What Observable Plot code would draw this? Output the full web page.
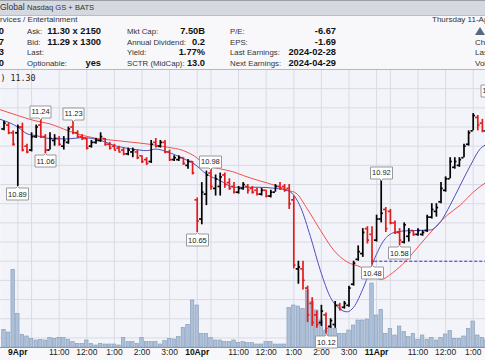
<!DOCTYPE html>
<html><head><meta charset="utf-8">
<script src="https://cdn.jsdelivr.net/npm/d3@7"></script>
<script src="https://cdn.jsdelivr.net/npm/@observablehq/plot@0.6"></script>
<style>
body{margin:0;background:#fff;}
#wrap{position:relative;width:485px;height:360px;overflow:hidden;font-family:"Liberation Sans",Arial,sans-serif;color:#222;background:#f8f8fb;}
.t{position:absolute;white-space:nowrap;line-height:1;color:#333;}
.b{font-weight:bold;color:#111;}
.r{transform:translateX(-100%);}
#tb{position:absolute;left:0;top:0;width:485px;height:14px;background:#d5d8df;border-top:1px solid #9aa0aa;border-bottom:1px solid #b9bdc6;}
.layer{position:absolute;left:0;top:69px;}
#tri{position:absolute;left:475px;top:27px;width:0;height:0;border-left:5px solid transparent;border-right:5px solid transparent;border-bottom:8px solid #5b6680;}
</style></head><body>
<div id="wrap">
  <div id="tb"></div>
  <div id="tri"></div>
  <div id="l1" class="layer"></div>
  <div id="l2" class="layer"></div>
  <div id="l3" class="layer"></div>
</div>
<script>
// ---------- header text ----------
const titleMain = "Global";
const titleSub = "Nasdaq GS + BATS";
const sectorText = "rvices / Entertainment";
const dateText = "Thursday 11-Apr-2024";
const col0Values = ["0", "7", "3", "0"];
const col1Labels = ["Ask:", "Bid:", "Last:", "Optionable:"];
const col1Values = ["11.30 x 2150", "11.29 x 1300", "", "yes"];
const col2Labels = ["Mkt Cap:", "Annual Dividend:", "Yield:", "SCTR (MidCap):"];
const col2Values = ["7.50B", "0.2", "1.77%", "13.0"];
const col3Labels = ["P/E:", "EPS:", "Last Earnings:", "Next Earnings:"];
const col3Values = ["-6.67", "-1.69", "2024-02-28", "2024-04-29"];
const col4Labels = ["", "Chg:", "Last:", "Vol:"];

// ---------- price data (10-minute bars, index k; k = 0 is 9 Apr 9:30) ----------
const firstK = -3;
const open = [
 11.19,11.21,11.17,11.17,11.20,11.10,11.08,11.15,11.21,11.15,
 11.08,11.13,11.14,11.10,11.12,11.20,11.17,11.15,11.14,11.10,
 11.12,11.13,11.14,11.11,11.10,11.09,11.08,11.06,11.07,11.07,
 11.05,11.03,11.02,11.12,11.10,11.12,11.07,11.03,11.03,11.04,
 11.00,11.02,10.82,10.72,10.85,10.96,10.88,10.89,10.95,10.91,
 10.89,10.86,10.88,10.89,10.88,10.87,10.85,10.87,10.84,10.86,
 10.89,10.89,10.88,10.82,10.46,10.46,10.36,10.28,10.22,10.18,
 10.22,10.16,10.17,10.27,10.26,10.27,10.38,10.51,10.54,10.67,
 10.64,10.61,10.72,10.77,10.76,10.70,10.65,10.60,10.63,10.66,
 10.64,10.64,10.66,10.73,10.76,10.81,10.87,10.93,10.99,11.00,
 11.04,11.11,11.18,11.25,11.22,11.18,11.27];
const high = [
 11.23,11.22,11.18,11.21,11.22,11.11,11.17,11.21,11.24,11.16,
 11.17,11.16,11.15,11.15,11.20,11.23,11.18,11.16,11.14,11.13,
 11.14,11.17,11.14,11.12,11.11,11.10,11.09,11.09,11.09,11.08,
 11.05,11.04,11.13,11.14,11.13,11.13,11.08,11.05,11.05,11.04,
 11.03,11.02,10.83,10.91,10.97,10.98,10.95,10.96,10.96,10.93,
 10.91,10.89,10.91,10.90,10.89,10.88,10.88,10.87,10.87,10.90,
 10.91,10.90,10.90,10.84,10.50,10.50,10.37,10.31,10.24,10.27,
 10.23,10.20,10.29,10.28,10.29,10.37,10.50,10.58,10.67,10.68,
 10.68,10.74,10.92,10.78,10.77,10.71,10.67,10.70,10.67,10.66,
 10.67,10.66,10.74,10.80,10.80,10.91,10.94,11.04,11.04,11.04,
 11.11,11.18,11.27,11.26,11.24,11.28,11.35];
const low = [
 11.18,11.16,11.10,10.89,11.07,11.06,11.07,11.14,11.14,11.06,
 11.08,11.10,11.10,11.08,11.11,11.16,11.14,11.13,11.08,11.09,
 11.11,11.12,11.10,11.08,11.08,11.07,11.05,11.05,11.04,11.03,
 11.01,11.00,11.01,11.09,11.09,11.06,11.02,11.02,11.02,11.00,
 10.98,10.95,10.65,10.69,10.79,10.87,10.84,10.84,10.88,10.87,
 10.85,10.85,10.87,10.85,10.85,10.84,10.84,10.83,10.83,10.86,
 10.87,10.86,10.77,10.46,10.38,10.35,10.18,10.16,10.15,10.16,
 10.12,10.15,10.15,10.24,10.25,10.26,10.37,10.50,10.52,10.59,
 10.48,10.60,10.70,10.65,10.69,10.64,10.58,10.59,10.60,10.63,
 10.63,10.63,10.65,10.72,10.73,10.80,10.86,10.93,10.98,10.99,
 11.04,11.10,11.18,11.18,11.17,11.17,11.25];
const close = [
 11.22,11.17,11.11,11.20,11.08,11.07,11.15,11.20,11.15,11.08,
 11.14,11.14,11.11,11.13,11.19,11.17,11.15,11.14,11.09,11.12,
 11.13,11.15,11.11,11.09,11.08,11.07,11.06,11.08,11.08,11.04,
 11.02,11.01,11.11,11.10,11.12,11.07,11.03,11.04,11.04,11.01,
 11.02,10.96,10.71,10.86,10.95,10.89,10.93,10.94,10.90,10.88,
 10.86,10.88,10.90,10.87,10.86,10.85,10.87,10.84,10.86,10.89,
 10.88,10.87,10.80,10.48,10.47,10.40,10.22,10.18,10.17,10.24,
 10.15,10.19,10.27,10.25,10.28,10.36,10.49,10.55,10.65,10.61,
 10.50,10.72,10.75,10.67,10.70,10.65,10.61,10.69,10.65,10.64,
 10.66,10.65,10.73,10.77,10.78,10.88,10.93,11.02,11.02,11.03,
 11.10,11.17,11.26,11.21,11.18,11.27,11.30];
const volume = [ // thousands of shares
 106,90,466,202,76,66,52,42,46,42,
 58,52,58,56,46,32,22,22,42,22,
 12,22,18,18,18,12,58,32,32,22,
 58,32,32,32,18,38,52,48,62,118,
 136,282,252,82,82,56,42,42,32,32,
 42,28,32,26,26,18,18,32,32,18,
 18,18,238,252,246,232,342,272,222,162,
 102,122,112,82,82,102,132,162,162,168,
 384,192,226,82,112,72,126,92,62,82,
 46,72,46,58,42,58,78,98,52,52,
 66,112,156,72,58,46,60];

// moving averages (bar position k, value)
const maFastK = [-3.8,0,2,4,7,11,14,18,21.5,25,28,30,32.5,36,38.3,41,44,47,52,56,59,61.5,63.6,65.8,68,69.8,71.6,73,75.2,77.4,79.6,81.8,84,86,89.7,91.9,94,96.2,98.4,100.6,102];
const maFastV = [11.24,11.20,11.165,11.155,11.14,11.138,11.145,11.13,11.10,11.085,11.077,11.085,11.07,11.035,11.008,10.955,10.92,10.886,10.886,10.88,10.865,10.78,10.63,10.45,10.31,10.255,10.236,10.26,10.366,10.505,10.609,10.65,10.658,10.66,10.663,10.706,10.793,10.897,11.0,11.088,11.11];
const maSlowK = [-3.8,0,3.5,7,11,14.3,18,21.6,25,29,32.5,36,38.3,41,44,47,49,52.5,56,59,60.5,62.9,65.8,68.7,71.6,74.5,76.7,78.9,81.5,84.3,87.2,90.5,93.4,96.2,99.1,102];
const maSlowV = [11.29,11.26,11.234,11.216,11.18,11.155,11.138,11.129,11.12,11.109,11.095,11.077,11.05,11.0,10.982,10.965,10.947,10.92,10.895,10.868,10.855,10.774,10.661,10.557,10.496,10.47,10.435,10.405,10.44,10.50,10.58,10.671,10.741,10.793,10.862,10.915];

// price labels (extremes)
const labelK = [0,5,6,12,39,42,67,77,79,83,103];
const labelPrice = [10.89,11.24,11.06,11.23,10.65,10.98,10.12,10.48,10.92,10.58,11.35];
const labelSide = ["low","high","low","high","low","high","low","low","high","low","high"];

const prevClose = 10.50;
const lastPrice = 11.30;

// axis ticks
const dayTickK = [0, 39, 78];
const dayTickLabels = ["9Apr", "10Apr", "11Apr"];
const timeTickK = [9,15,21,27,33, 48,54,60,66,72, 87,93,99];
const timeTickLabels = ["11:00","12:00","1:00","2:00","3:00","11:00","12:00","1:00","2:00","3:00","11:00","12:00","1:00"];
const gridK = [-6,0,3,9,15,21,27,33,39,42,48,54,60,66,72,78,81,87,93,99];
const gridPrices = [10.1,10.2,10.3,10.4,10.5,10.6,10.7,10.8,10.9,11.0,11.1,11.2,11.3,11.4,11.5];

// ---------- build header ----------
const wrap = document.getElementById("wrap");
function put(text, left, cy, cls, size) {
  const s = document.createElement("span");
  s.className = "t " + (cls || "");
  s.textContent = text;
  const fs = size || (cls && cls.includes("b") ? 9.3 : 7.8);
  s.style.fontSize = fs + "px";
  s.style.left = left + "px";
  s.style.top = (cy - fs * 0.55) + "px";
  wrap.appendChild(s);
}
put(titleMain, 0, 8, "", 8.5);
put(titleSub, 27, 8.3, "", 7.6);
put(sectorText, 0, 20, "", 8);
put(dateText, 432, 20, "", 8);
const rowsY = [32, 43, 53.5, 64.5];
rowsY.forEach((cy, i) => {
  put(col0Values[i], 4, cy, "b r");
  put(col1Labels[i], 27, cy, "");
  if (col1Values[i]) put(col1Values[i], 101, cy, "b r");
  put(col2Labels[i], 127, cy, "");
  put(col2Values[i], 205, cy, "b r");
  put(col3Labels[i], 230, cy, "");
  put(col3Values[i], 336, cy, "b r");
  if (col4Labels[i]) put(col4Labels[i], 475, cy, "", 8);
});

// ---------- chart ----------
const bars = open.map((o, i) => ({
  k: i + firstK, open: o, high: high[i], low: low[i], close: close[i], vol: volume[i],
  up: close[i] >= o
}));
const upBars = bars.filter(d => d.up), downBars = bars.filter(d => !d.up);
const maFast = maFastK.map((k, i) => ({k, v: maFastV[i]}));
const maSlow = maSlowK.map((k, i) => ({k, v: maSlowV[i]}));
const labels = labelK.map((k, i) => ({k, p: labelPrice[i], side: labelSide[i], t: labelPrice[i].toFixed(2)}));

const spacing = 4.6, x0 = 17.3, W = 485;
const xDomain = [-x0 / spacing, (W - x0) / spacing];
const yDomain = [10.05, 11.50];
const common = {
  width: W, height: 291, marginTop: 0, marginBottom: 13, marginLeft: 0, marginRight: 0,
  x: {domain: xDomain, axis: null},
  style: {background: "transparent", overflow: "visible", fontFamily: "Liberation Sans, Arial, sans-serif"}
};
const gridColor = "#d9dbe4";

const layer1 = Plot.plot({
  ...common,
  y: {domain: yDomain, axis: null},
  marks: [
    Plot.frame({fill: "#f3f4f9", stroke: null}),
    Plot.ruleY(gridPrices, {stroke: gridColor}),
    Plot.ruleX(gridK, {stroke: gridColor}),
    Plot.ruleY([yDomain[1]], {stroke: "#b5b9c4"}),
    Plot.ruleY([yDomain[0]], {stroke: "#8e95a3"}),
    Plot.text(dayTickK, {x: d => d, text: (d, i) => dayTickLabels[i], frameAnchor: "bottom", dy: 7, fontSize: 8.5, fontWeight: "bold", fill: "#111"}),
    Plot.text(timeTickK, {x: d => d, text: (d, i) => timeTickLabels[i], frameAnchor: "bottom", dy: 7, fontSize: 8.5, fill: "#222"})
  ]
});
document.getElementById("l1").appendChild(layer1);

const layer2 = Plot.plot({
  ...common,
  y: {domain: [0, 1668], axis: null},
  marks: [
    Plot.rect(bars, {x1: d => d.k - 0.38, x2: d => d.k + 0.38, y1: d => 0, y2: "vol", fill: "#adc0d8", stroke: "#8299b8", strokeWidth: 0.6})
  ]
});
document.getElementById("l2").appendChild(layer2);

const tick = 0.48;
const ohlc = (data, color) => [
  Plot.ruleX(data, {x: "k", y1: "low", y2: "high", stroke: color, strokeWidth: 1.7}),
  Plot.ruleY(data, {y: "open", x1: d => d.k - tick, x2: "k", stroke: color, strokeWidth: 1.7}),
  Plot.ruleY(data, {y: "close", x1: "k", x2: d => d.k + tick, stroke: color, strokeWidth: 1.7})
];
const tipStyle = {x: "k", y: "p", title: "t", fontSize: 7.5, textPadding: 1.5, pointerSize: 3, fill: "#fff", stroke: "#9a9a9a", pathFilter: "none", fontFamily: "Liberation Sans, Arial, sans-serif"};

const layer3 = Plot.plot({
  ...common,
  y: {domain: yDomain, axis: null},
  marks: [
    Plot.ruleY([prevClose], {x1: dayTickK[2] - 0.4, x2: xDomain[1] + 2, stroke: "#2b2bf0", strokeDasharray: "3,2", strokeWidth: 1}),
    Plot.line(maSlow, {x: "k", y: "v", stroke: "#f05050", strokeWidth: 1, curve: "monotone-x"}),
    Plot.line(maFast, {x: "k", y: "v", stroke: "#4f4fbd", strokeWidth: 1, curve: "monotone-x"}),
    ...ohlc(downBars, "#e41b1b"),
    ...ohlc(upBars, "#000"),
    Plot.tip(labels.filter(d => d.side === "high"), {...tipStyle, anchor: "bottom"}),
    Plot.tip(labels.filter(d => d.side === "low"), {...tipStyle, anchor: "top"}),
    Plot.text([lastPrice], {frameAnchor: "top-left", text: d => ") " + d.toFixed(2), dy: 6, textAnchor: "start", fontFamily: "DejaVu Sans Mono", fontSize: 8.3, fill: "#222"})
  ]
});
document.getElementById("l3").appendChild(layer3);
</script>
</body></html>
